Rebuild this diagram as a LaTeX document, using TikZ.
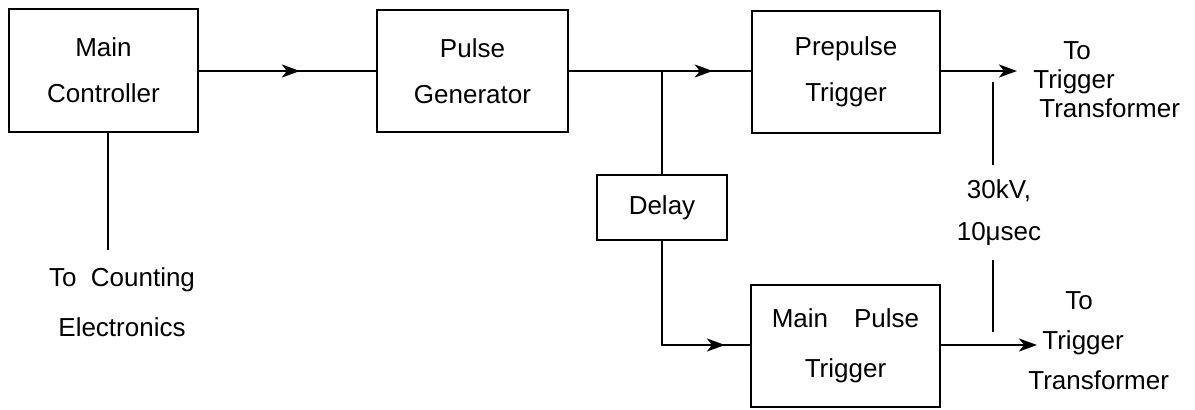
\documentclass[tikz,border=0pt]{standalone}
\usepackage{fontspec}
\setmainfont{Liberation Sans}
\usetikzlibrary{arrows.meta,decorations.markings,calc}
\begin{document}
\begin{tikzpicture}[x=0.5pt,y=-0.5pt,
  every node/.style={font=\fontsize{13}{23}\selectfont},
  blk/.style={draw,line width=1.1pt,align=center,inner sep=0pt},
  wire/.style={line width=1.1pt},
  tip/.style={-{Stealth[length=9pt,width=6.5pt,inset=2.5pt]}},
  midarrow/.style={postaction={decorate},decoration={markings,mark=at position #1 with {\arrow{Stealth[length=9pt,width=6.5pt,inset=2.5pt]}}}},
  lbl/.style={inner sep=0pt}
]
\useasboundingbox (0,0) rectangle (1195,409);

% blocks
\node[blk,minimum width=94.5pt,minimum height=61.5pt] (mc) at (103.5,70.5) {Main\\Controller};
\node[blk,minimum width=95.5pt,minimum height=61pt] (pg) at (472.5,71) {Pulse\\Generator};
\node[blk,minimum width=94pt,minimum height=61pt] (pp) at (846,72) {Prepulse\\Trigger};
\node[blk,minimum width=65pt,minimum height=32.5pt] (dl) at (662,207.5) {Delay};
\node[blk,minimum width=94.5pt,minimum height=61pt,font=\fontsize{13}{25}\selectfont] (mpt) at (845.5,346) {Main\quad Pulse\\Trigger};

% free ends
\coordinate (br) at (662,71);
\coordinate (cnt) at (108,250);
\coordinate (o1) at (1017,71);
\coordinate (o2) at (1037,345);
\coordinate (v1a) at (993,82);
\coordinate (v1b) at (993,165);
\coordinate (v2a) at (993,260);
\coordinate (v2b) at (993,332);

% connectors
\draw[wire,midarrow=0.57] (mc.east |- br) -- (pg.west |- br);
\draw[wire,midarrow=0.79] (pg.east |- br) -- (pp.west |- br);
\draw[wire] (br) -- (dl.north);
\draw[wire,midarrow=0.87] (dl.south) |- (mpt.west |- o2);
\draw[wire] (mc.south -| cnt) -- (cnt);
\draw[wire,tip] (pp.east |- o1) -- (o1);
\draw[wire,tip] (mpt.east |- o2) -- (o2);
\draw[wire] (v1a) -- (v1b);
\draw[wire] (v2a) -- (v2b);

% labels
\node[lbl,align=center,font=\fontsize{13}{25}\selectfont] (lcnt) at (122,302) {To\ \ Counting\\Electronics};
\node[lbl,align=left,anchor=north west,font=\fontsize{13}{14.5}\selectfont] (lt1) at (1033,41) {\hspace{15pt}To\\Trigger\\\hspace{3pt}Transformer};
\node[lbl,align=left,anchor=north west,font=\fontsize{13}{20}\selectfont] (lt2) at (1028,291) {\hspace{18.5pt}To\\\hspace{7pt}Trigger\\Transformer};
\node[lbl,align=center,font=\fontsize{13}{21}\selectfont] (lkv) at (999,213) {30kV,\\10μsec};
\end{tikzpicture}
\end{document}
